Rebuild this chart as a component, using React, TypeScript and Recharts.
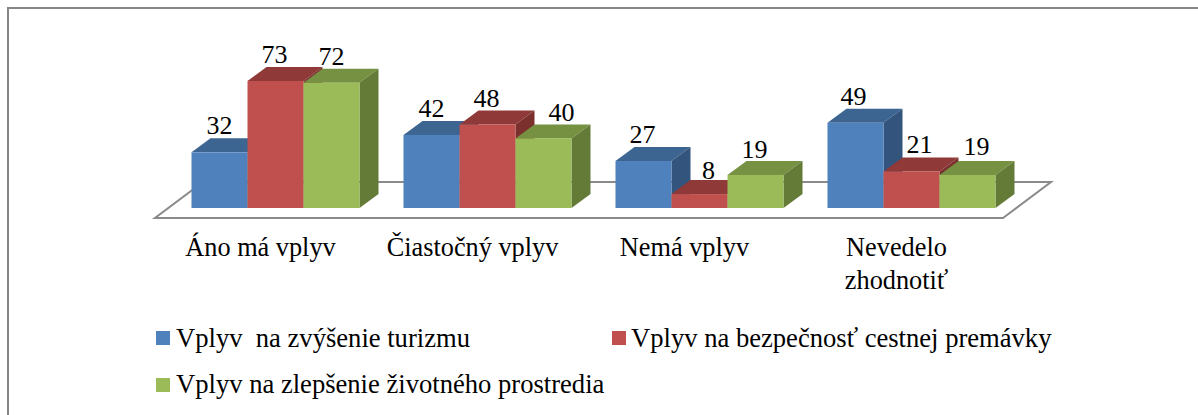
import React from 'react';
import { BarChart, Bar, XAxis, YAxis, Legend, LabelList, usePlotArea } from 'recharts';

const categories = ['Áno má vplyv', 'Čiastočný vplyv', 'Nemá vplyv', 'Nevedelo zhodnotiť'];
const turizmus = [32, 42, 27, 49];
const bezpecnost = [73, 48, 8, 21];
const prostredie = [72, 40, 19, 19];

const data = categories.map((name, i) => ({
  name,
  turizmus: turizmus[i],
  bezpecnost: bezpecnost[i],
  prostredie: prostredie[i],
}));

const FONT = '"Liberation Serif", "Times New Roman", serif';
const DEPTH_X = 19;
const DEPTH_Y = 14;

// darker shades for the top and the side of each 3D column
const shades: Record<string, { top: string; side: string }> = {
  '#4F81BD': { top: '#3C6592', side: '#33547C' },
  '#C0504D': { top: '#8F3A38', side: '#7B302E' },
  '#9BBB59': { top: '#769142', side: '#647A37' },
};

// some labels were dragged by hand in the original, [dx, dy] per category
const noNudge = [[0, 0], [0, 0], [-1, 0], [-2, 0]];
const redNudge = [[-1, 0], [-1, 1], [9, 3], [8, 0]];
const greenNudge = [[0, 0], [18, 1], [-1, 1], [9, -2]];

const Column3D = (props: any) => {
  const { x, y, width, height, fill } = props;
  const s = shades[fill];
  return (
    <g>
      <polygon
        points={`${x},${y} ${x + DEPTH_X},${y - DEPTH_Y} ${x + width + DEPTH_X},${y - DEPTH_Y} ${x + width},${y}`}
        fill={s.top}
      />
      <polygon
        points={`${x + width},${y} ${x + width + DEPTH_X},${y - DEPTH_Y} ${x + width + DEPTH_X},${y + height - DEPTH_Y} ${x + width},${y + height}`}
        fill={s.side}
      />
      <rect x={x} y={y} width={width} height={height} fill={fill} />
    </g>
  );
};

const Floor = () => {
  const area = usePlotArea();
  if (!area) return null;
  const left = area.x - 15;
  const right = area.x + area.width - 15;
  const front = area.y + area.height + 10;
  return (
    <polygon
      points={`${left},${front} ${right},${front} ${right + 48},${front - 36} ${left + 48},${front - 36}`}
      fill="#fff"
      stroke="#8A8A8A"
      strokeWidth={2}
    />
  );
};

const ColumnLabel = (props: any) => {
  const { x, y, width, value, index, nudge } = props;
  const [dx, dy] = nudge[index];
  return (
    <text x={x + width / 2 + dx} y={y - 18 + dy} textAnchor="middle" fontFamily={FONT} fontSize={26} fill="#000">
      {value}
    </text>
  );
};

const CategoryTick = (props: any) => {
  const { x, y, payload } = props;
  const text: string = payload.value;
  // only the long label breaks onto a second line
  const lines = text.length > 15 ? text.split(' ') : [text];
  const cx = x - 15.5;
  return (
    <text x={cx} y={y} textAnchor="middle" fontFamily={FONT} fontSize={26.3} fill="#000">
      {lines.map((line, i) => (
        <tspan key={line} x={cx} dy={i === 0 ? 0 : 33}>
          {line}
        </tspan>
      ))}
    </text>
  );
};

const LegendBlock = (props: any) => {
  const items: any[] = props.payload || [];
  return (
    <div style={{ position: 'relative', width: 1000, height: 90, fontFamily: FONT, fontSize: 26.6, color: '#000' }}>
      {items.map((item, i) => (
        <div
          key={item.value}
          style={{
            position: 'absolute',
            left: i === 1 ? 456 : 0,
            top: i === 2 ? 46 : 0,
            whiteSpace: 'pre',
            lineHeight: '26px',
          }}
        >
          <span style={{ position: 'absolute', left: 0, top: i === 2 ? 7 : 6, width: 14, height: 14, background: item.color }} />
          <span style={{ marginLeft: i === 1 ? 19 : 20 }}>{item.value}</span>
        </div>
      ))}
    </div>
  );
};

export default function App() {
  return (
    <div style={{ position: 'absolute', left: 0, top: 0, width: 1198, height: 415, background: '#fff', overflow: 'hidden' }}>
      <div style={{ position: 'absolute', left: 7, top: 7, right: 0, bottom: 0, borderLeft: '2px solid #868686', borderTop: '2px solid #868686' }} />
      <BarChart
        width={1198}
        height={415}
        data={data}
        margin={{ top: 68.8, right: 180, bottom: 157, left: 170 }}
        barGap={0}
        barCategoryGap={21.5}
        style={{ position: 'absolute', left: 0, top: 0 }}
      >
        <Floor />
        <XAxis dataKey="name" axisLine={false} tickLine={false} height={50} interval={0} tick={<CategoryTick />} tickMargin={42} />
        <YAxis hide domain={[0, 80]} />
        <Bar dataKey="turizmus" name="Vplyv  na zvýšenie turizmu" fill="#4F81BD" shape={<Column3D />} isAnimationActive={false}>
          <LabelList dataKey="turizmus" content={<ColumnLabel nudge={noNudge} />} />
        </Bar>
        <Bar dataKey="bezpecnost" name="Vplyv na bezpečnosť cestnej premávky" fill="#C0504D" shape={<Column3D />} isAnimationActive={false}>
          <LabelList dataKey="bezpecnost" content={<ColumnLabel nudge={redNudge} />} />
        </Bar>
        <Bar dataKey="prostredie" name="Vplyv na zlepšenie životného prostredia" fill="#9BBB59" shape={<Column3D />} isAnimationActive={false}>
          <LabelList dataKey="prostredie" content={<ColumnLabel nudge={greenNudge} />} />
        </Bar>
        <Legend content={<LegendBlock />} layout="horizontal" verticalAlign="middle" wrapperStyle={{ left: 156, top: 325, width: 1000 }} />
      </BarChart>
    </div>
  );
}
